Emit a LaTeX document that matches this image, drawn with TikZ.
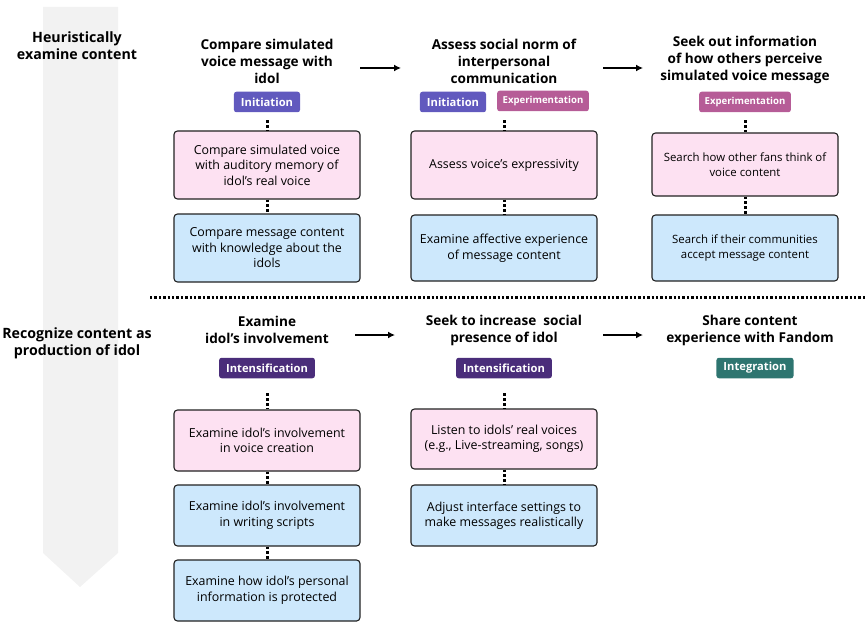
\documentclass[tikz,border=0pt]{standalone}
\usepackage{fontspec}
\setmainfont{Open Sans}
\usetikzlibrary{arrows.meta}
\definecolor{bandgray}{HTML}{F2F2F2}
\definecolor{initc}{HTML}{6159BE}
\definecolor{expc}{HTML}{B65C97}
\definecolor{intc}{HTML}{4A2D7A}
\definecolor{integc}{HTML}{2E7570}
\definecolor{pinkbox}{HTML}{FDE1F2}
\definecolor{bluebox}{HTML}{CDE8FC}
\definecolor{edgec}{HTML}{222222}
\tikzset{
  sidelabel/.style={font=\fontsize{14.2}{17}\selectfont\bfseries, align=center, text=black},
  header/.style={font=\fontsize{13.6}{17}\selectfont\bfseries, align=center, text=black},
  badge/.style={rounded corners=2.5pt, text=white, font=\fontsize{11.2}{12}\selectfont\bfseries, minimum height=20.5pt, inner xsep=7pt, inner ysep=0pt},
  smallbadge/.style={badge, font=\fontsize{9.6}{11}\selectfont\bfseries, inner xsep=5.5pt},
  taskbox/.style={draw=edgec, line width=1.1pt, rounded corners=3.5pt, align=center, font=\fontsize{12.4}{15.5}\selectfont, minimum width=186pt, inner xsep=3pt},
  smalltext/.style={font=\fontsize{11.4}{15}\selectfont},
  pinkstep/.style={taskbox, fill=pinkbox},
  bluestep/.style={taskbox, fill=bluebox},
  dotlink/.style={line width=3pt, dash pattern=on 2.6pt off 2.2pt, draw=black},
  flowarrow/.style={line width=1.5pt, -{Latex[length=7pt,width=7pt]}},
}
\begin{document}
\begin{tikzpicture}[x=1pt,y=-1pt]
\useasboundingbox (0,0) rectangle (867,623);
% gray band
\fill[bandgray] (43,7) -- (118,7) -- (118,553) -- (80,587) -- (43,553) -- cycle;
\node[sidelabel] (lab1) at (77,46) {Heuristically\\examine content};
\node[sidelabel] (lab2) at (77,343) {Recognize content as\\production of idol};
% separator
\coordinate (sepL) at (150,297);
\coordinate (sepR) at (866,297);
\draw[line width=3pt, dash pattern=on 2.4pt off 2pt] (sepL) -- (sepR);

% ---------- top row ----------
\node[header] (h1) at (267,61) {Compare simulated\\voice message with\\idol};
\node[header] (h2) at (504,61) {Assess social norm of\\interpersonal\\communication};
\node[header] (h3) at (745,60) {Seek out information\\of how others perceive\\simulated voice message};

\node[badge, fill=initc] (b1) at (267,102) {Initiation};
\node[badge, fill=initc] (b2a) at (453,102) {Initiation};
\node[smallbadge, fill=expc] (b2b) at (543,101) {Experimentation};
\node[smallbadge, fill=expc] (b3) at (745,102) {Experimentation};

\node[pinkstep, minimum height=68pt] (t11) at (267,165) {Compare simulated voice\\with auditory memory of\\idol's real voice};
\node[bluestep, minimum height=68pt] (t12) at (267,248) {Compare message content\\with knowledge about the\\idols};
\node[pinkstep, minimum height=68pt] (t21) at (504,165) {Assess voice’s expressivity};
\node[bluestep, minimum height=66pt] (t22) at (504,248) {Examine affective experience\\of message content};
\node[pinkstep, smalltext, minimum height=63pt] (t31) at (745,164.5) {Search how other fans think of\\voice content};
\node[bluestep, smalltext, minimum height=66pt] (t32) at (745,248) {Search if their communities\\accept message content};

\draw[dotlink] ([yshift=-8pt]b1.south) -- (t11.north);
\draw[dotlink] (t11.south) -- (t12.north);
\draw[dotlink] ([yshift=-8pt]b1.south -| t21.north) -- (t21.north);
\draw[dotlink] (t21.south) -- (t22.north);
\draw[dotlink] ([yshift=-8pt]b3.south) -- (t31.north);
\draw[dotlink] (t31.south) -- (t32.north);

\coordinate (a1s) at (360,68);
\coordinate (a1e) at (401,68);
\coordinate (a2s) at (603,68);
\coordinate (a2e) at (643,68);
\draw[flowarrow] (a1s) -- (a1e);
\draw[flowarrow] (a2s) -- (a2e);

% ---------- bottom row ----------
\node[header] (h4) at (267,330) {Examine\\idol’s involvement};
\node[header] (h5) at (504,330.5) {Seek to increase\ \ social\\presence of idol};
\node[header] (h6) at (750,330.5) {Share content\\experience with Fandom};

\node[badge, fill=intc] (b4) at (267,368) {Intensification};
\node[badge, fill=intc] (b5) at (504,368) {Intensification};
\node[badge, fill=integc] (b6) at (755,368) {Integration};

\node[pinkstep, minimum height=61pt] (t41) at (267,440.5) {Examine idol’s involvement\\in voice creation};
\node[bluestep, minimum height=61pt] (t42) at (267,515.5) {Examine idol’s involvement\\in writing scripts};
\node[bluestep, minimum height=61pt] (t43) at (267,590.5) {Examine how idol’s personal\\information is protected};
\node[pinkstep, minimum height=60pt] (t51) at (504,439) {Listen to idols’ real voices\\(e.g., Live-streaming, songs)};
\node[bluestep, minimum height=61pt] (t52) at (504,515.5) {Adjust interface settings to\\make messages realistically};

\draw[dotlink] ([yshift=-15pt]b4.south) -- (t41.north);
\draw[dotlink] (t41.south) -- (t42.north);
\draw[dotlink] (t42.south) -- (t43.north);
\draw[dotlink] ([yshift=-15pt]b5.south) -- (t51.north);
\draw[dotlink] (t51.south) -- (t52.north);

\coordinate (a3s) at (355,335);
\coordinate (a3e) at (395,335);
\coordinate (a4s) at (603,335);
\coordinate (a4e) at (643,335);
\draw[flowarrow] (a3s) -- (a3e);
\draw[flowarrow] (a4s) -- (a4e);
\end{tikzpicture}
\end{document}
